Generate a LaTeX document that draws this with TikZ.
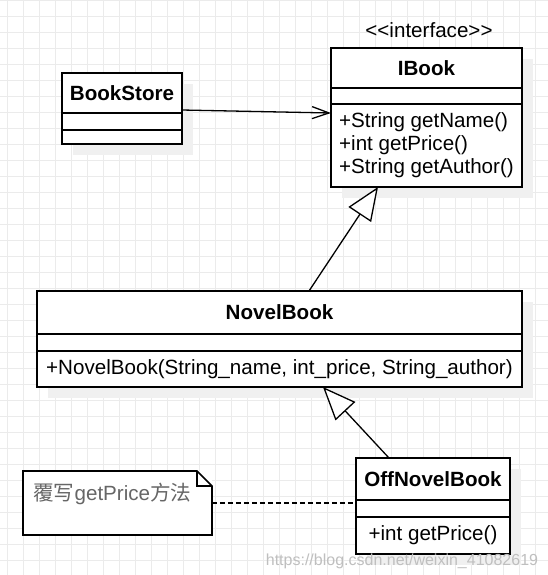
\documentclass[tikz,border=0pt]{standalone}
\usepackage{fontspec}
\setmainfont{Liberation Sans}
\newfontfamily\cjk{Noto Sans CJK SC}
\usetikzlibrary{positioning,arrows.meta,fit,backgrounds}

\tikzset{
    umlname/.style={draw, line width=0.85pt, fill=white, outer sep=0pt, inner sep=0pt, font=\bfseries\fontsize{10.3}{11.5}\selectfont},
    umlpart/.style={draw, line width=0.85pt, fill=white, outer sep=0pt, inner sep=0pt, align=left, font=\fontsize{10.3}{11.5}\selectfont},
    boxshadow/.style={fill=black!6, inner sep=0pt, xshift=5.5pt, yshift=-5.5pt},
    gridline/.style={draw=black!8, line width=0.5pt},
    assoc/.style={-{Straight Barb[length=8.5pt, width=6pt]}, line width=0.65pt},
    inherit/.style={-{Triangle[open, length=16.5pt, width=13.5pt, fill=white]}, line width=0.65pt},
    dep/.style={dash pattern=on 2.5pt off 1.5pt, line width=0.65pt},
    notebox/.style={fill=white, outer sep=0pt, inner sep=0pt},
    noteline/.style={line width=0.85pt},
    notetext/.style={inner sep=0pt, text=black!60, font=\fontsize{10.3}{11.5}\selectfont}
}

\begin{document}
\begin{tikzpicture}[x=0.5pt, y=-0.5pt]
    \useasboundingbox (0,0) rectangle (548,575);

    % Grid
    \begin{scope}[on background layer]
        \fill[white] (0,0) rectangle (548,575);
        \foreach \gx in {8,24,...,536} \draw[gridline] (\gx,0) -- (\gx,575);
        \foreach \gy in {0,16,...,560} \draw[gridline] (0,\gy) -- (548,\gy);
    \end{scope}

    % BookStore
    \node[umlname, minimum width=60pt, minimum height=20pt] (bsName) at (122,93) {BookStore};
    \node[umlpart, minimum width=60pt, minimum height=8.5pt, below=0pt of bsName] (bsAttr) {};
    \node[umlpart, minimum width=60pt, minimum height=7pt, below=0pt of bsAttr] (bsMeth) {};

    % IBook
    \node[umlname, minimum width=95.5pt, minimum height=20pt] (ibName) at (426.5,68) {IBook};
    \node[font=\fontsize{10.3}{11.5}\selectfont] (ibStereo) at (429,30) {<\kern0pt<interface>\kern0pt>};
    \node[umlpart, minimum width=95.5pt, minimum height=8pt, below=0pt of ibName] (ibAttr) {};
    \node[umlpart, minimum width=95.5pt, minimum height=41.5pt, below=0pt of ibAttr] (ibMeth) {+String getName()\\+int getPrice()\\+String getAuthor()};

    % NovelBook
    \node[umlname, minimum width=242.5pt, minimum height=21.5pt] (nbName) at (279.5,312.5) {NovelBook};
    \node[umlpart, minimum width=242.5pt, minimum height=8.5pt, below=0pt of nbName] (nbAttr) {};
    \node[umlpart, minimum width=242.5pt, minimum height=18pt, below=0pt of nbAttr] (nbMeth) {+NovelBook(String\_name, int\_price, String\_author)};

    % OffNovelBook
    \node[umlname, minimum width=77pt, minimum height=21pt] (onbName) at (433,479) {OffNovelBook};
    \node[umlpart, minimum width=77pt, minimum height=8.5pt, below=0pt of onbName] (onbAttr) {};
    \node[umlpart, minimum width=77pt, minimum height=18.5pt, below=0pt of onbAttr] (onbMeth) {+int getPrice()};

    % Note
    \node[notebox, minimum width=94.5pt, minimum height=32pt] (note) at (117.5,503) {};
    \draw[noteline] (note.north west) -- ([xshift=-7.5pt]note.north east) -- ([yshift=-7.5pt]note.north east) -- (note.south east) -- (note.south west) -- cycle;
    \draw[noteline] ([xshift=-7.5pt]note.north east) |- ([yshift=-7.5pt]note.north east);
    \node[notetext, anchor=west] (noteText) at ([shift={(5pt,-11.5pt)}]note.north west) {{\cjk 覆写}getPrice{\cjk 方法}};

    % Shadows
    \begin{scope}[on background layer]
        \node[boxshadow, fit=(bsName)(bsMeth)] (bsShadow) {};
        \node[boxshadow, fit=(ibName)(ibMeth)] (ibShadow) {};
        \node[boxshadow, fit=(nbName)(nbMeth)] (nbShadow) {};
        \node[boxshadow, fit=(onbName)(onbMeth)] (onbShadow) {};
    \end{scope}

    % Connectors
    \draw[assoc] ([yshift=1.5pt]bsName.south east) -- ([yshift=-4.5pt]ibAttr.south west);
    \draw[inherit] ([xshift=14.75pt]nbName.north) -- ([xshift=-24.25pt]ibMeth.south);
    \draw[inherit] ([xshift=-22pt]onbName.north) -- ([xshift=21.75pt]nbMeth.south);
    \draw[dep] (note.east) -- (note.east -| onbAttr.west);

    % Watermark
    \node[text=black!25, font=\fontsize{8}{9}\selectfont] (wm) at (402,561) {https://blog.csdn.net/weixin\_41082619};
\end{tikzpicture}
\end{document}
